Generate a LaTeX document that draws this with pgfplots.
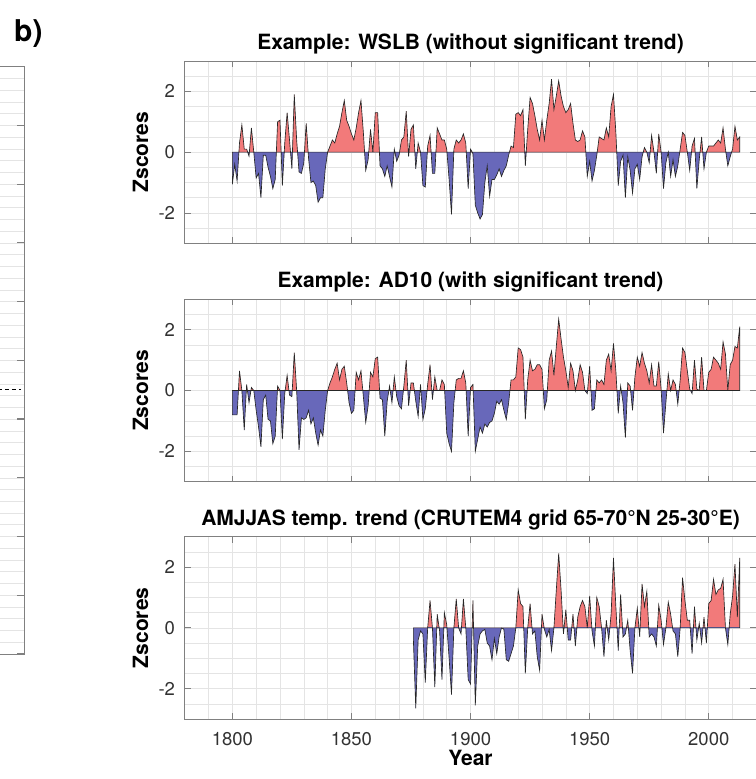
\documentclass[border=0pt]{standalone}
\usepackage{fontspec}
\setmainfont{TeX Gyre Heros}
\usepackage{pgfplots}
\pgfplotsset{compat=1.18}
\usepackage{pgfplotstable}
\definecolor{posc}{RGB}{242,122,122}
\definecolor{negc}{RGB}{104,104,186}
\definecolor{gridc}{RGB}{228,228,228}
\definecolor{axc}{RGB}{128,128,128}
\definecolor{tickc}{RGB}{50,50,50}

\pgfplotstableread{
year z
1800 -1.06
1801 -0.4
1802 -0.95
1803 0.3
1804 0.9
1805 0.1
1806 0.1
1807 -0.13
1808 0.8
1809 0.0
1810 -0.85
1811 -0.7
1812 -1.5
1813 -0.1
1814 -0.1
1815 -0.5
1816 -0.8
1817 -1.2
1818 -0.9
1819 1.0
1820 1.05
1821 -1.1
1822 0.3
1823 1.3
1824 0.4
1825 -0.55
1826 1.9
1827 0.4
1828 -0.65
1829 -0.7
1830 -0.35
1831 0.95
1832 -0.2
1833 -1.0
1834 -0.95
1835 -1.1
1836 -1.65
1837 -1.5
1838 -1.5
1839 -0.55
1840 0.0
1841 0.2
1842 0.4
1843 0.3
1844 0.6
1845 0.85
1846 1.3
1847 1.7
1848 1.05
1849 0.85
1850 0.6
1851 0.4
1852 0.8
1853 1.3
1854 1.7
1855 0.65
1856 -0.6
1857 -0.25
1858 0.75
1859 0.0
1860 1.3
1861 1.3
1862 -0.45
1863 -0.55
1864 -0.8
1865 -0.45
1866 -0.8
1867 -1.15
1868 0.1
1869 -0.3
1870 -0.1
1871 0.4
1872 0.5
1873 1.35
1874 -0.15
1875 0.75
1876 0.9
1877 -0.55
1878 0.3
1879 0.0
1880 -1.1
1881 -1.15
1882 0.2
1883 0.55
1884 -0.7
1885 -0.7
1886 0.8
1887 0.6
1888 0.4
1889 0.4
1890 0.1
1891 -0.9
1892 -2.05
1893 0.1
1894 0.4
1895 0.3
1896 0.4
1897 0.6
1898 0.3
1899 -1.2
1900 0.1
1901 -0.05
1902 -1.75
1903 -2.0
1904 -2.2
1905 -2.05
1906 -1.0
1907 -0.45
1908 -1.45
1909 -0.9
1910 -0.9
1911 -0.75
1912 -0.55
1913 -0.8
1914 -0.6
1915 -0.45
1916 -0.1
1917 0.2
1918 0.15
1919 1.25
1920 1.3
1921 1.2
1922 1.4
1923 -0.45
1924 0.75
1925 1.8
1926 1.6
1927 1.2
1928 0.75
1929 0.4
1930 1.05
1931 0.4
1932 1.05
1933 1.6
1934 2.4
1935 1.4
1936 1.85
1937 2.35
1938 1.85
1939 1.5
1940 1.3
1941 1.4
1942 1.6
1943 0.95
1944 0.4
1945 0.35
1946 0.4
1947 0.7
1948 0.5
1949 -0.8
1950 -0.3
1951 -0.95
1952 -0.6
1953 -0.1
1954 0.5
1955 0.45
1956 0.4
1957 0.8
1958 0.5
1959 1.5
1960 1.9
1961 0.65
1962 -1.1
1963 -0.3
1964 -0.1
1965 -1.5
1966 -0.15
1967 -0.6
1968 -1.35
1969 -0.55
1970 -0.4
1971 -0.9
1972 -0.15
1973 0.15
1974 0.0
1975 -0.35
1976 0.55
1977 0.0
1978 -0.7
1979 0.6
1980 0.0
1981 -1.2
1982 -0.35
1983 0.0
1984 -0.8
1985 -0.25
1986 -0.8
1987 -0.45
1988 0.1
1989 0.65
1990 0.55
1991 0.0
1992 -0.6
1993 0.2
1994 0.45
1995 -1.2
1996 -0.25
1997 0.5
1998 -0.55
1999 0.0
2000 0.2
2001 0.2
2002 0.2
2003 0.3
2004 0.4
2005 0.3
2006 0.8
2007 0.1
2008 -0.45
2009 -0.15
2010 0.1
2011 0.85
2012 0.4
2013 0.5
}\wslb

\pgfplotstableread{
year z
1800 -0.8
1801 -0.8
1802 -0.8
1803 0.65
1804 0.0
1805 -1.3
1806 0.2
1807 -0.4
1808 0.1
1809 0.0
1810 -0.65
1811 -1.2
1812 -1.85
1813 -0.3
1814 -0.15
1815 -0.95
1816 -1.0
1817 -1.75
1818 -1.5
1819 0.15
1820 0.0
1821 -1.6
1822 -0.1
1823 0.5
1824 -0.15
1825 -0.2
1826 1.25
1827 0.0
1828 -1.95
1829 -0.9
1830 -0.95
1831 -0.9
1832 -0.65
1833 -1.1
1834 -0.9
1835 -1.4
1836 -1.8
1837 -1.3
1838 -1.5
1839 -0.65
1840 0.0
1841 0.25
1842 0.45
1843 0.7
1844 0.9
1845 0.35
1846 0.7
1847 0.8
1848 0.25
1849 -0.4
1850 -0.75
1851 -0.65
1852 0.6
1853 0.35
1854 0.65
1855 -0.2
1856 -1.05
1857 -0.5
1858 0.6
1859 0.45
1860 1.05
1861 1.1
1862 -0.25
1863 -0.3
1864 -1.5
1865 -0.35
1866 0.15
1867 -0.4
1868 0.45
1869 -0.2
1870 -0.5
1871 -0.6
1872 0.15
1873 1.0
1874 -0.5
1875 0.25
1876 0.25
1877 -0.35
1878 -0.85
1879 0.2
1880 -0.95
1881 -0.6
1882 0.2
1883 0.85
1884 -0.3
1885 0.45
1886 0.0
1887 0.0
1888 0.35
1889 0.2
1890 -1.4
1891 -1.75
1892 -2.0
1893 -0.4
1894 0.35
1895 0.4
1896 0.4
1897 0.65
1898 0.25
1899 -1.5
1900 0.1
1901 0.2
1902 -2.0
1903 -1.6
1904 -1.2
1905 -1.4
1906 -1.1
1907 -1.2
1908 -1.05
1909 -1.0
1910 -0.75
1911 -0.35
1912 -0.45
1913 -0.3
1914 -0.65
1915 -0.95
1916 -0.4
1917 0.35
1918 0.35
1919 0.45
1920 1.4
1921 1.35
1922 1.1
1923 -0.95
1924 0.35
1925 1.0
1926 0.65
1927 0.7
1928 0.85
1929 0.85
1930 0.7
1931 -0.6
1932 -0.3
1933 1.0
1934 1.3
1935 0.5
1936 1.45
1937 2.35
1938 1.7
1939 1.1
1940 0.65
1941 0.1
1942 0.9
1943 0.65
1944 0.0
1945 0.35
1946 0.85
1947 0.6
1948 0.0
1949 -0.1
1950 0.8
1951 -0.65
1952 -0.6
1953 0.35
1954 0.25
1955 0.35
1956 0.2
1957 1.0
1958 1.2
1959 0.65
1960 1.55
1961 0.65
1962 -0.75
1963 0.15
1964 -0.4
1965 -1.55
1966 0.25
1967 0.15
1968 -0.65
1969 0.45
1970 1.1
1971 0.8
1972 1.25
1973 0.9
1974 0.65
1975 0.25
1976 0.85
1977 0.15
1978 0.15
1979 0.95
1980 0.05
1981 -1.4
1982 -0.4
1983 0.55
1984 0.0
1985 0.35
1986 0.2
1987 -0.45
1988 0.35
1989 1.4
1990 1.25
1991 0.65
1992 0.05
1993 -0.1
1994 1.0
1995 0.05
1996 0.0
1997 1.1
1998 0.0
1999 0.0
2000 0.6
2001 0.7
2002 1.1
2003 1.0
2004 0.9
2005 0.7
2006 1.6
2007 1.2
2008 0.0
2009 0.85
2010 1.0
2011 1.45
2012 1.4
2013 2.1
}\adten

\pgfplotstableread{
year z
1876 -0.4
1877 -2.65
1878 -0.4
1879 -0.1
1880 -0.2
1881 -1.8
1882 0.0
1883 0.9
1884 0.0
1885 -1.95
1886 0.45
1887 -0.1
1888 -1.7
1889 0.5
1890 0.1
1891 -1.0
1892 -2.2
1893 0.0
1894 0.95
1895 0.0
1896 -0.2
1897 0.95
1898 0.0
1899 -1.7
1900 -1.85
1901 0.9
1902 -2.55
1903 -0.6
1904 -0.2
1905 -0.1
1906 -0.05
1907 -0.5
1908 -0.6
1909 -1.05
1910 -0.35
1911 -0.85
1912 -0.3
1913 0.0
1914 -0.05
1915 -1.05
1916 -1.1
1917 -0.85
1918 -0.6
1919 0.0
1920 1.25
1921 0.8
1922 0.7
1923 -1.5
1924 0.0
1925 0.8
1926 -0.2
1927 -0.1
1928 -0.95
1929 -1.4
1930 0.45
1931 -0.05
1932 -0.3
1933 -0.05
1934 -0.75
1935 0.0
1936 1.25
1937 2.45
1938 1.25
1939 -0.2
1940 0.6
1941 -0.4
1942 -0.4
1943 0.45
1944 -0.6
1945 0.35
1946 0.7
1947 0.9
1948 0.7
1949 0.0
1950 1.05
1951 -0.1
1952 -0.6
1953 1.0
1954 0.7
1955 0.0
1956 -0.95
1957 0.25
1958 -0.4
1959 0.45
1960 2.3
1961 0.7
1962 -0.75
1963 1.1
1964 -0.3
1965 -0.2
1966 0.25
1967 -0.75
1968 -1.5
1969 0.0
1970 0.65
1971 -0.3
1972 1.45
1973 0.7
1974 1.2
1975 -0.3
1976 -0.2
1977 -0.3
1978 -0.6
1979 0.75
1980 0.25
1981 -0.55
1982 0.0
1983 0.85
1984 0.45
1985 -0.1
1986 -0.2
1987 -0.95
1988 0.0
1989 1.65
1990 0.9
1991 0.25
1992 0.25
1993 -0.85
1994 0.7
1995 -0.4
1996 0.15
1997 -0.5
1998 0.35
1999 -0.5
2000 0.8
2001 0.9
2002 1.6
2003 1.1
2004 1.25
2005 1.3
2006 1.6
2007 0.0
2008 -0.55
2009 0.45
2010 1.05
2011 2.1
2012 0.35
2013 2.3
}\crutem

\pgfplotsset{
  zpanel/.style={
    scale only axis, width=571.7pt, height=182.3pt,
    anchor=south west,
    xmin=1780, xmax=2020, ymin=-3, ymax=3,
    xtick={1800,1850,1900,1950,2000},
    minor xtick={1780,1790,...,2020},
    ytick={-2,0,2},
    minor ytick={-3,-2.5,...,3},
    grid=both,
    major grid style={gridc, line width=0.6pt},
    minor grid style={gridc, line width=0.6pt},
    axis line style={axc, line width=0.8pt},
    tick style={axc, line width=0.8pt},
    major tick length=6pt, minor tick length=0pt,
    tick align=inside,
    /pgf/number format/assume math mode=true,
    /pgf/number format/1000 sep={},
    xticklabel style={font=\fontsize{18.5}{20}\selectfont, text=tickc, inner sep=0pt, anchor=north, yshift=-13pt},
    yticklabel style={font=\fontsize{18.5}{20}\selectfont, text=tickc, inner sep=0pt, anchor=east, xshift=-9.5pt},
    ylabel={Zscores},
    ylabel style={font=\fontsize{21}{22}\selectfont\bfseries, at={(axis description cs:-0.0642,0.5)}, anchor=base},
    title style={font=\fontsize{21}{22}\selectfont\bfseries, at={(axis description cs:0.5,1)}, anchor=base, yshift=5.5pt},
  },
}

\newcommand{\zareas}[1]{%
  \begin{scope}
    \clip (axis cs:1700,0) rectangle (axis cs:2100,10);
    \addplot[fill=posc, draw=none] table[x=year,y=z]{#1} \closedcycle;
  \end{scope}
  \begin{scope}
    \clip (axis cs:1700,-10) rectangle (axis cs:2100,0);
    \addplot[fill=negc, draw=none] table[x=year,y=z]{#1} \closedcycle;
  \end{scope}
  \addplot[draw=black!85, line width=0.65pt, fill=none] table[x=year,y=z]{#1} \closedcycle;
}

\begin{document}
\begin{tikzpicture}
% partial panel a) at the left edge
\begin{axis}[
  scale only axis, at={(-100pt,125pt)}, anchor=south west,
  width=124.3pt, height=587.3pt,
  xmin=0, xmax=1, ymin=0, ymax=10,
  xtick=\empty, ytick={0,1,...,10}, yticklabels={},
  minor y tick num=4,
  ymajorgrids, yminorgrids,
  major grid style={gridc, line width=0.6pt},
  minor grid style={gridc, line width=0.6pt},
  axis line style={axc, line width=0.8pt},
  tick style={axc, line width=1.2pt},
  major tick length=7pt, minor tick length=0pt,
  tick align=inside,
]
\addplot[black, line width=0.7pt, dash pattern=on 4pt off 3pt] coordinates {(0,4.5) (0.972,4.5)};
\end{axis}

\node[anchor=base west, inner sep=0pt, font=\fontsize{30}{30}\selectfont\bfseries] at (14pt,737.3pt) {b)};

\begin{axis}[zpanel, at={(184.7pt,535.7pt)}, xticklabels={},
  title={Example: WSLB (without significant trend)}]
\zareas{\wslb}
\end{axis}

\begin{axis}[zpanel, at={(184.7pt,297.3pt)}, xticklabels={},
  title={Example: AD10 (with significant trend)}]
\zareas{\adten}
\end{axis}

\begin{axis}[zpanel, at={(184.7pt,60pt)},
  title={AMJJAS temp. trend (CRUTEM4 grid 65-70°N 25-30°E)},
  xlabel={Year},
  xlabel style={font=\fontsize{21}{22}\selectfont\bfseries, at={(axis description cs:0.5,0)}, anchor=base, yshift=-46pt}]
\zareas{\crutem}
\end{axis}

\pgfresetboundingbox
\path[use as bounding box] (0pt,0pt) rectangle (755pt,779pt);
\end{tikzpicture}
\end{document}
